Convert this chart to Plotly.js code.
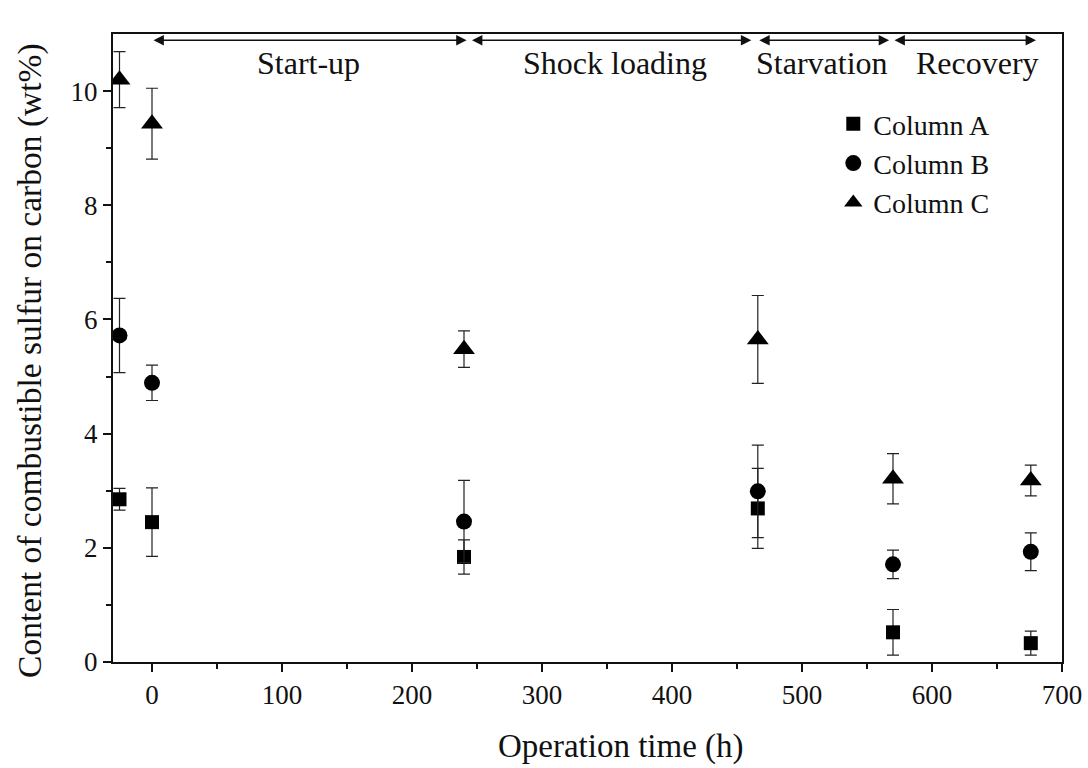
<!DOCTYPE html>
<html>
<head>
<meta charset="utf-8">
<script src="https://cdn.plot.ly/plotly-3.0.1.min.js"></script>
<style>html,body{margin:0;padding:0;background:#fff;}#chart{width:1088px;height:768px;}</style>
</head>
<body>
<div id="chart"></div>
<script>
// Data
const timeH = [-25, 0, 240, 466, 570, 676];
const colA = [2.85, 2.45, 1.84, 2.69, 0.52, 0.33];
const colAErr = [0.19, 0.60, 0.30, 0.70, 0.40, 0.21];
const colB = [5.72, 4.89, 2.46, 2.99, 1.71, 1.93];
const colBErr = [0.65, 0.31, 0.72, 0.81, 0.25, 0.33];
const colC = [10.20, 9.43, 5.48, 5.65, 3.21, 3.18];
const colCErr = [0.49, 0.62, 0.32, 0.77, 0.44, 0.27];

const phaseNames = ["Start-up", "Shock loading", "Starvation", "Recovery"];
const phaseStart = [0, 245, 466, 570];
const phaseEnd = [242, 461, 567, 680];
const phaseLabelX = [120, 356, 515, 635];

const xTitle = "Operation time (h)";
const yTitle = "Content of combustible sulfur on carbon (wt%)";

const FONT = "Liberation Serif, Times New Roman, serif";

function series(name, y, err, symbol, size) {
  return {
    type: "scatter", mode: "markers", name: name,
    x: timeH, y: y,
    marker: {symbol: symbol, size: size, color: "#000"},
    error_y: {type: "data", array: err, visible: true, color: "#222", thickness: 1.2, width: 6}
  };
}

const traces = [
  series("Column A", colA, colAErr, "square", 14),
  series("Column B", colB, colBErr, "circle", 16),
  series("Column C", colC, colCErr, "triangle-up", 19)
];

const annotations = [];
for (let i = 0; i < phaseNames.length; i++) {
  annotations.push({
    x: phaseEnd[i], y: 10.89, ax: phaseStart[i], ay: 10.89,
    xref: "x", yref: "y", axref: "x", ayref: "y",
    text: "", showarrow: true, arrowside: "end+start",
    arrowhead: 2, arrowsize: 1.3, arrowwidth: 1.6, arrowcolor: "#111"
  });
  annotations.push({
    x: phaseLabelX[i], y: 10.5, xref: "x", yref: "y",
    text: phaseNames[i], showarrow: false,
    font: {family: FONT, size: 32, color: "#111"}
  });
}
// axis titles placed as in the reference (offset from the plot centre)
annotations.push({
  x: 0.535, y: -0.135, xref: "paper", yref: "paper", xanchor: "center", yanchor: "middle",
  text: xTitle, showarrow: false, font: {family: FONT, size: 33, color: "#111"}
});
annotations.push({
  x: -0.0875, y: 0.481, xref: "paper", yref: "paper", xanchor: "center", yanchor: "middle",
  text: yTitle, textangle: -90, showarrow: false, font: {family: FONT, size: 33.5, color: "#111"}
});

const layout = {
  width: 1088, height: 768,
  margin: {l: 113, r: 26, t: 34, b: 106},
  paper_bgcolor: "#fff", plot_bgcolor: "#fff",
  font: {family: FONT, color: "#111"},
  showlegend: true,
  legend: {
    x: 0.759, y: 0.8966, xanchor: "left", yanchor: "top",
    bgcolor: "rgba(0,0,0,0)", font: {family: FONT, size: 28, color: "#111"},
    itemwidth: 30, tracegroupgap: 0
  },
  xaxis: {
    range: [-30, 700], tickvals: [0, 100, 200, 300, 400, 500, 600, 700],
    ticks: "outside", ticklen: 8, tickwidth: 2, tickcolor: "#111",
    minor: {tickvals: [50, 150, 250, 350, 450, 550, 650], ticks: "outside", ticklen: 5, tickwidth: 2, tickcolor: "#111"},
    showline: true, linecolor: "#111", linewidth: 2, mirror: true,
    showgrid: false, zeroline: false,
    tickfont: {family: FONT, size: 27, color: "#111"}
  },
  yaxis: {
    range: [0, 11], tickvals: [0, 2, 4, 6, 8, 10],
    ticks: "outside", ticklen: 8, tickwidth: 2, tickcolor: "#111",
    minor: {tickvals: [1, 3, 5, 7, 9], ticks: "outside", ticklen: 5, tickwidth: 2, tickcolor: "#111"},
    showline: true, linecolor: "#111", linewidth: 2, mirror: true,
    showgrid: false, zeroline: false,
    tickfont: {family: FONT, size: 27, color: "#111"}
  },
  annotations: annotations
};

Plotly.newPlot("chart", traces, layout, {staticPlot: true, displayModeBar: false});
</script>
</body>
</html>
